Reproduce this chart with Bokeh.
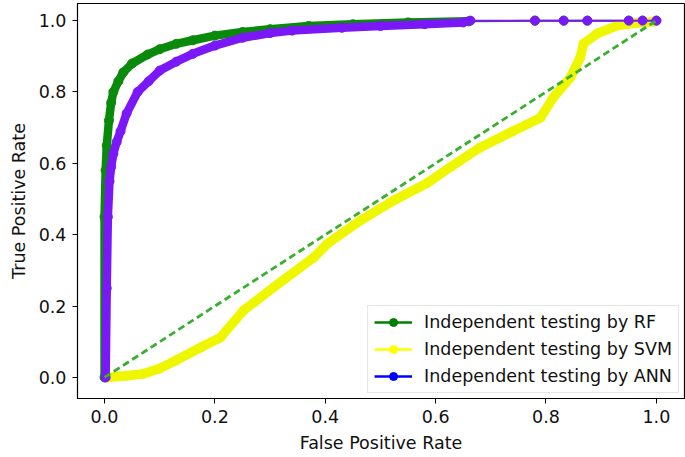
import numpy as np
from bokeh.plotting import figure
from bokeh.models import Range1d, FixedTicker, Legend, LegendItem, ColumnDataSource
from bokeh.embed import file_html
from bokeh.resources import INLINE

# ---- data ----
rf_fpr = [0.0, 0.0, 0.002, 0.004, 0.008, 0.012, 0.016, 0.025, 0.034, 0.05, 0.078, 0.1, 0.13,
          0.16, 0.2, 0.25, 0.3, 0.37, 0.45, 0.55, 0.66, 0.78, 0.832, 0.875, 0.95, 0.975, 1.0]
rf_tpr = [0.0, 0.45, 0.58, 0.65, 0.72, 0.77, 0.80, 0.83, 0.855, 0.88, 0.905, 0.92, 0.935,
          0.945, 0.958, 0.968, 0.976, 0.985, 0.99, 0.995, 0.998, 1.0, 1.0, 1.0, 1.0, 1.0, 1.0]
rf_dense_end = 21

svm_fpr = [0.005, 0.04, 0.07, 0.1, 0.13, 0.174, 0.21, 0.252, 0.306, 0.379, 0.404, 0.464, 0.524,
           0.585, 0.627, 0.68, 0.74, 0.79, 0.813, 0.844, 0.862, 0.868, 0.893, 0.929, 0.966, 0.995]
svm_tpr = [0.0, 0.005, 0.01, 0.025, 0.048, 0.084, 0.112, 0.188, 0.252, 0.336, 0.375, 0.44, 0.496,
           0.545, 0.59, 0.644, 0.69, 0.728, 0.784, 0.84, 0.896, 0.935, 0.964, 0.986, 0.994, 0.997]

ann_fpr = [0.002, 0.004, 0.006, 0.009, 0.012, 0.016, 0.022, 0.029, 0.04, 0.06, 0.08, 0.1, 0.13,
           0.16, 0.2, 0.25, 0.3, 0.34, 0.43, 0.5, 0.58, 0.65, 0.663, 0.78, 0.832, 0.875, 0.95, 0.975, 1.0]
ann_tpr = [0.0, 0.25, 0.45, 0.55, 0.59, 0.627, 0.66, 0.69, 0.74, 0.80, 0.83, 0.86, 0.885,
           0.907, 0.93, 0.952, 0.965, 0.972, 0.98, 0.985, 0.99, 0.995, 1.0, 1.0, 1.0, 1.0, 1.0, 1.0, 1.0]
ann_dense_end = 23

diag_x = [0.0, 1.0]
diag_y = [0.0, 1.0]

labels = ["Independent testing by RF", "Independent testing by SVM", "Independent testing by ANN"]
legend_colors = ["#008000", "#ffff00", "#0000ff"]
ticks = [0.0, 0.2, 0.4, 0.6, 0.8, 1.0]

RF_C = "#0a8a0a"
SVM_C = "#eef700"
ANN_C = "#7a18f7"
DIAG_C = "#3aaf2f"
FONT = "DejaVu Sans"
FS = "17.5px"

p = figure(width=685, height=457, output_backend="svg", toolbar_location=None,
           x_range=Range1d(-0.049, 1.051), y_range=Range1d(-0.059, 1.048),
           min_border_left=77, min_border_right=1, min_border_top=3, min_border_bottom=59)
p.grid.visible = False
p.outline_line_color = "black"
p.outline_line_width = 1.2
p.background_fill_color = "white"
p.border_fill_color = "white"

# RF
p.line(rf_fpr[:rf_dense_end], rf_tpr[:rf_dense_end], line_color=RF_C, line_width=8.5,
       line_join="round", line_cap="round")
p.line(rf_fpr, rf_tpr, line_color=RF_C, line_width=2)
p.scatter(rf_fpr, rf_tpr, size=9, fill_color=RF_C, line_color=RF_C)

# SVM
p.line(svm_fpr, svm_tpr, line_color=SVM_C, line_width=9.5, line_join="round", line_cap="round")
p.scatter(svm_fpr, svm_tpr, size=9, fill_color=SVM_C, line_color=SVM_C)

# ANN
p.line(ann_fpr[:ann_dense_end], ann_tpr[:ann_dense_end], line_color=ANN_C, line_width=8.5,
       line_join="round", line_cap="round")
p.line(ann_fpr, ann_tpr, line_color=ANN_C, line_width=2)
p.scatter(ann_fpr, ann_tpr, size=9, fill_color=ANN_C, line_color=ANN_C)

# diagonal
p.line(diag_x, diag_y, line_color=DIAG_C, line_width=2.8, line_dash="7 4")

# legend-only renderers (NaN data: nothing drawn on the plot)
items = []
for lab, col in zip(labels, legend_colors):
    src = ColumnDataSource(data=dict(x=[np.nan], y=[np.nan]))
    lr = p.line("x", "y", source=src, line_color=col, line_width=2.5)
    sr = p.scatter("x", "y", source=src, size=7, fill_color=col, line_color=col)
    items.append(LegendItem(label=lab, renderers=[lr, sr]))

legend = Legend(items=items, location="bottom_right", margin=5, padding=6, spacing=7,
                glyph_width=38, glyph_height=20, label_height=20, label_standoff=12,
                label_text_font=FONT, label_text_font_size=FS, label_text_color="#111111",
                border_line_color="#cccccc", border_line_width=1, background_fill_alpha=0.85)
p.add_layout(legend)

for ax in (p.xaxis, p.yaxis):
    ax.ticker = FixedTicker(ticks=ticks)
    ax.major_label_overrides = {t: f"{t:.1f}" for t in ticks}
    ax.major_label_text_font = FONT
    ax.major_label_text_font_size = FS
    ax.major_label_text_color = "#111111"
    ax.axis_label_text_font = FONT
    ax.axis_label_text_font_size = FS
    ax.axis_label_text_font_style = "normal"
    ax.axis_label_text_color = "#111111"
    ax.major_tick_out = 5
    ax.major_tick_in = 0
    ax.minor_tick_out = 0
    ax.minor_tick_in = 0
    ax.axis_line_color = "black"
    ax.major_tick_line_color = "black"
    ax.major_label_standoff = 6

p.xaxis.axis_label = "False Positive Rate"
p.yaxis.axis_label = "True Positive Rate"
p.xaxis.axis_label_standoff = 7
p.yaxis.axis_label_standoff = 7

open("out.html", "w").write(file_html(p, INLINE))
